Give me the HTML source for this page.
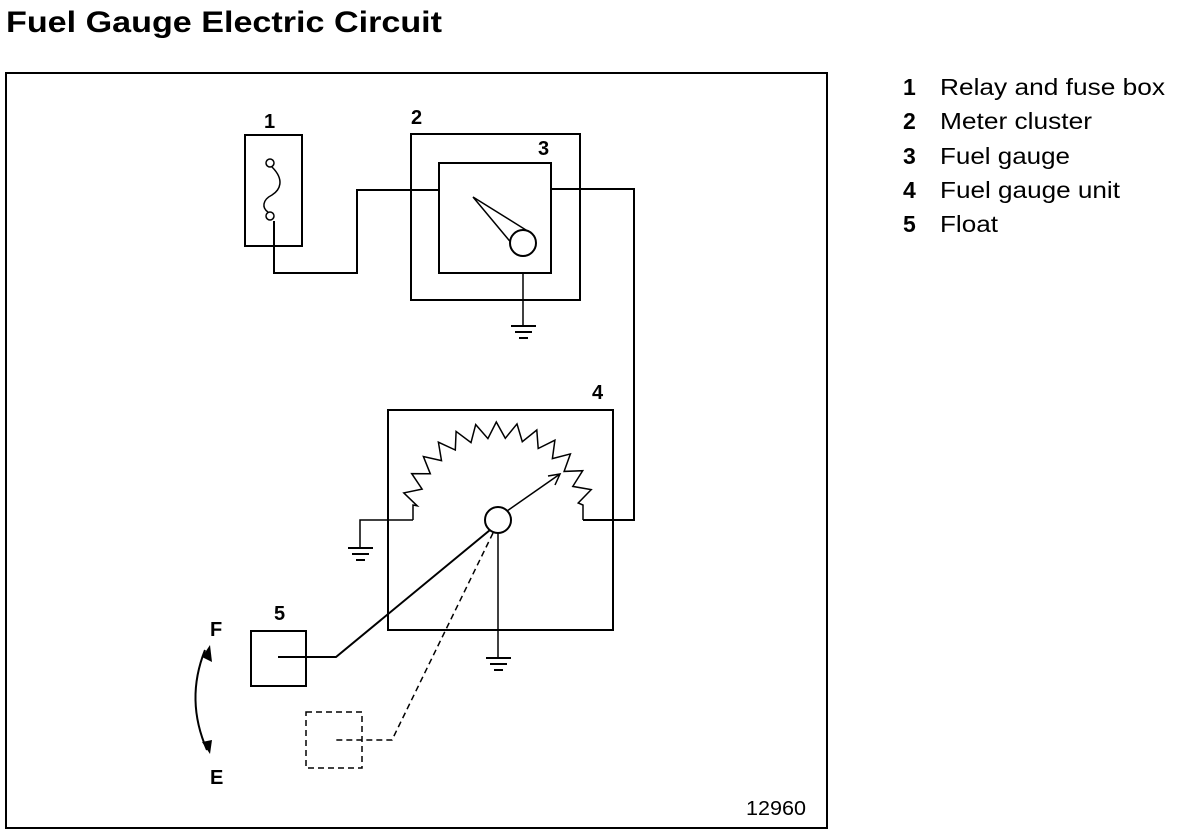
<!DOCTYPE html>
<html><head><meta charset="utf-8"><style>
body{margin:0;background:#fff;width:1184px;height:834px;overflow:hidden;font-family:"Liberation Sans",Arial,sans-serif}
svg{position:absolute;left:0;top:0}
</style></head><body>
<svg width="1184" height="834" viewBox="0 0 1184 834" xmlns="http://www.w3.org/2000/svg" font-family="Liberation Sans, Arial, sans-serif">
<text x="6" y="32" font-size="30" font-weight="bold" textLength="436" lengthAdjust="spacingAndGlyphs">Fuel Gauge Electric Circuit</text>
<rect x="6" y="73" width="821" height="755" fill="none" stroke="#000" stroke-width="2"/>
<g font-size="23" fill="#000">
<text x="903" y="95" font-weight="bold">1</text><text x="940" y="95" textLength="225" lengthAdjust="spacingAndGlyphs">Relay and fuse box</text>
<text x="903" y="129" font-weight="bold">2</text><text x="940" y="129" textLength="152" lengthAdjust="spacingAndGlyphs">Meter cluster</text>
<text x="903" y="164" font-weight="bold">3</text><text x="940" y="164" textLength="130" lengthAdjust="spacingAndGlyphs">Fuel gauge</text>
<text x="903" y="198" font-weight="bold">4</text><text x="940" y="198" textLength="180" lengthAdjust="spacingAndGlyphs">Fuel gauge unit</text>
<text x="903" y="232" font-weight="bold">5</text><text x="940" y="232" textLength="58" lengthAdjust="spacingAndGlyphs">Float</text>
</g>
<g font-size="20" font-weight="bold">
<text x="264" y="128">1</text><text x="411" y="124">2</text><text x="538" y="155">3</text>
<text x="592" y="399">4</text><text x="274" y="620">5</text>
<text x="210" y="636">F</text><text x="210" y="784">E</text>
<text x="746" y="815" font-weight="normal" font-size="20" textLength="60" lengthAdjust="spacingAndGlyphs">12960</text>
</g>
<g fill="none" stroke="#000" stroke-width="2">
<rect x="245" y="135" width="57" height="111"/>
<rect x="411" y="134" width="169" height="166"/>
<rect x="439" y="163" width="112" height="110"/>
<polyline points="274,221 274,273 357,273 357,190 439,190"/>
<polyline points="551,189 634,189 634,520 583,520"/>
<line x1="523" y1="273" x2="523" y2="326" stroke-width="1.5"/>
<rect x="388" y="410" width="225" height="220"/>
<polyline points="413,520 360,520 360,548" stroke-width="1.5"/>
<line x1="498" y1="533" x2="498" y2="658" stroke-width="1.5"/>
<polyline points="490,530 336,657 278,657"/>
<line x1="507" y1="511" x2="560" y2="474" stroke-width="1.5"/>
<rect x="251" y="631" width="55" height="55"/>
</g>
<g fill="none" stroke="#000" stroke-width="1.5">
<circle cx="270" cy="163" r="4"/><circle cx="270" cy="216" r="4"/>
<path d="M272,167 C285,180 280,190 272,195 C262,200 262,208 268,212"/>
<polygon points="473,197 526,230 513,245"/>
<circle cx="523" cy="243" r="13" fill="#fff" stroke-width="2"/>
<circle cx="498" cy="520" r="13" fill="#fff" stroke-width="2"/>
<path d="M548,476 L560,474 L555,485"/>
<path d="M205,650 Q185,700 207,750" stroke-width="2"/>
</g>
<polygon points="210,645 212,662 202,657" fill="#000"/>
<polygon points="210,754 202,742 212,740" fill="#000"/>
<g fill="none" stroke="#000" stroke-width="1.5" stroke-dasharray="6,4">
<rect x="306" y="712" width="56" height="56"/>
<polyline points="493,533 392,740 334,740"/>
</g>
<g stroke="#000" stroke-width="2">
<line x1="511" y1="326" x2="536" y2="326"/><line x1="515" y1="332" x2="532" y2="332"/><line x1="519" y1="338" x2="528" y2="338"/>
<line x1="348" y1="548" x2="373" y2="548"/><line x1="352" y1="554" x2="369" y2="554"/><line x1="356" y1="560" x2="365" y2="560"/>
<line x1="486" y1="658" x2="511" y2="658"/><line x1="490" y1="664" x2="507" y2="664"/><line x1="494" y1="670" x2="503" y2="670"/>
</g>
<path id="zz" fill="none" stroke="#000" stroke-width="1.5"/>
</svg>
<script>
(function(){var cx=498,cy=520,pts=["413,520","413,505"];var a0=170,a1=12,n=26;
for(var i=0;i<=n;i++){var a=(a0+(a1-a0)*i/n)*Math.PI/180;var r=(i%2)?98:82;pts.push((cx+r*Math.cos(a)).toFixed(1)+","+(cy-r*Math.sin(a)).toFixed(1));}
pts.push("583,505");pts.push("583,520");
document.getElementById("zz").setAttribute("d","M"+pts.join(" L"));})();
</script>
</body></html>
